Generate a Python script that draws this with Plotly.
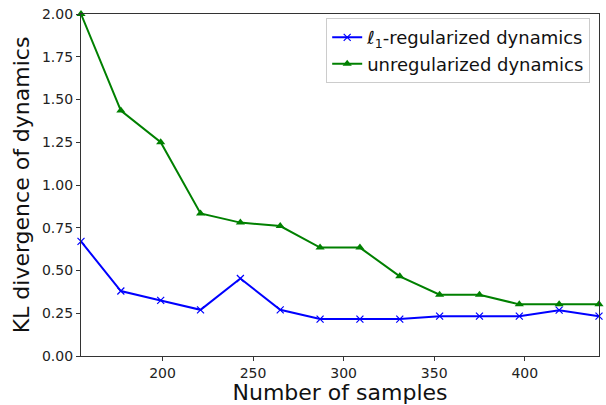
import plotly.graph_objects as go

samples = [155, 177, 199, 221, 243, 265, 287, 309, 331, 353, 375, 397, 419, 441]
l1_kl = [0.67, 0.38, 0.325, 0.27, 0.453, 0.27, 0.216, 0.216, 0.216, 0.233, 0.233, 0.233, 0.268, 0.233]
unreg_kl = [2.00, 1.435, 1.25, 0.834, 0.78, 0.76, 0.634, 0.634, 0.466, 0.358, 0.358, 0.302, 0.302, 0.302]
x_ticks = [200, 250, 300, 350, 400]
y_ticks = [0.0, 0.25, 0.5, 0.75, 1.0, 1.25, 1.5, 1.75, 2.0]

fig = go.Figure()
fig.add_trace(go.Scatter(
    x=samples, y=l1_kl, mode="lines+markers",
    name="ℓ<sub>1</sub>-regularized dynamics",
    line=dict(color="#0000ff", width=2),
    marker=dict(symbol="x-thin", size=7, color="#0000ff", line=dict(color="#0000ff", width=1.2)),
    cliponaxis=False,
))
fig.add_trace(go.Scatter(
    x=samples, y=unreg_kl, mode="lines+markers",
    name="unregularized dynamics",
    line=dict(color="#008000", width=2),
    marker=dict(symbol="triangle-up", size=8, color="#008000"),
    cliponaxis=False,
))

axis_common = dict(
    showgrid=False, zeroline=False, showline=True, linecolor="#333333", linewidth=1.2,
    mirror=True, ticks="outside", ticklen=4, tickcolor="#333333",
    tickfont=dict(family="DejaVu Sans", size=14, color="#222222"),
)
fig.update_xaxes(range=[155, 441], tickvals=x_ticks,
                 title=dict(text="Number of samples", font=dict(family="DejaVu Sans", size=22, color="#111111"), standoff=1),
                 **axis_common)
fig.update_yaxes(range=[0, 2.0], tickvals=y_ticks, tickformat=".2f",
                 title=dict(text="KL divergence of dynamics", font=dict(family="DejaVu Sans", size=22, color="#111111"), standoff=6),
                 **axis_common)

fig.update_layout(
    width=606, height=405,
    margin=dict(l=81, r=6, t=10, b=49),
    plot_bgcolor="white", paper_bgcolor="white",
    legend=dict(x=0.983, y=0.988, xanchor="right", yanchor="top",
                bordercolor="#cccccc", borderwidth=1, bgcolor="rgba(255,255,255,0.8)",
                font=dict(family="DejaVu Sans", size=18, color="#111111"),
                tracegroupgap=2),
    showlegend=True,
)

fig.write_html("out.html")
